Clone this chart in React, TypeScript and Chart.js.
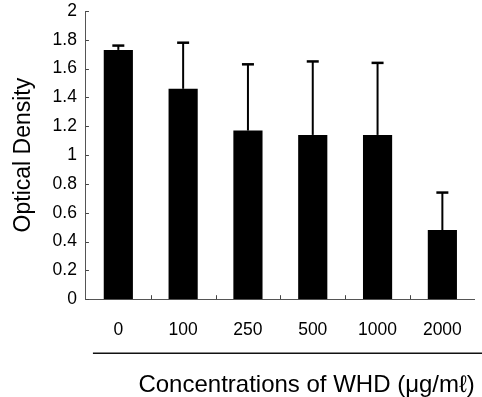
import React, { useEffect, useRef } from "react";
import { Chart, registerables } from "chart.js";

Chart.register(...registerables);

const categories = ["0", "100", "250", "500", "1000", "2000"];
const means = [1.73, 1.46, 1.17, 1.14, 1.14, 0.48];
const errorsUp = [0.03, 0.32, 0.46, 0.51, 0.5, 0.26];
const yTickLabels = ["0", "0.2", "0.4", "0.6", "0.8", "1", "1.2", "1.4", "1.6", "1.8", "2"];
const xTitle = "Concentrations of WHD (\u03bcg/m\u2113)";
const yTitle = "Optical Density";

const FONT = "'Liberation Sans', Arial, sans-serif";

const errorBarPlugin = {
  id: "errorBars",
  afterDatasetsDraw(chart: any) {
    const ctx = chart.ctx;
    const meta = chart.getDatasetMeta(0);
    const yScale = chart.scales.y;
    ctx.save();
    ctx.strokeStyle = "#000";
    meta.data.forEach((bar: any, i: number) => {
      const top = yScale.getPixelForValue(means[i] + errorsUp[i]);
      ctx.lineWidth = 2;
      ctx.beginPath();
      ctx.moveTo(bar.x, bar.y);
      ctx.lineTo(bar.x, top);
      ctx.stroke();
      ctx.lineWidth = 2.5;
      ctx.beginPath();
      ctx.moveTo(bar.x - 6, top);
      ctx.lineTo(bar.x + 6, top);
      ctx.stroke();
    });
    ctx.restore();
  },
};

const decorPlugin = {
  id: "decor",
  afterDraw(chart: any) {
    const ctx = chart.ctx;
    const area = chart.chartArea;
    const yScale = chart.scales.y;
    const xScale = chart.scales.x;
    ctx.save();
    ctx.strokeStyle = "#444";
    ctx.lineWidth = 1;
    yScale.ticks.forEach((t: any) => {
      const py = Math.round(yScale.getPixelForValue(t.value)) + 0.5;
      ctx.beginPath();
      ctx.moveTo(area.left, py);
      ctx.lineTo(area.left + 3, py);
      ctx.stroke();
    });
    for (let i = 1; i < categories.length; i++) {
      const px =
        Math.round((xScale.getPixelForValue(i - 1) + xScale.getPixelForValue(i)) / 2) + 0.5;
      ctx.beginPath();
      ctx.moveTo(px, area.bottom);
      ctx.lineTo(px, area.bottom - 4);
      ctx.stroke();
    }
    ctx.strokeStyle = "#111";
    ctx.lineWidth = 1.5;
    const uy = area.bottom + 54;
    ctx.beginPath();
    ctx.moveTo(area.left + 7, uy);
    ctx.lineTo(chart.width, uy);
    ctx.stroke();
    ctx.restore();
  },
};

export default function App() {
  const ref = useRef<HTMLCanvasElement | null>(null);

  useEffect(() => {
    if (!ref.current) return;
    const chart = new Chart(ref.current, {
      type: "bar",
      data: {
        labels: categories,
        datasets: [
          {
            data: means,
            backgroundColor: "#000",
            borderWidth: 0,
            categoryPercentage: 1,
            barPercentage: 0.45,
          },
        ],
      },
      options: {
        responsive: false,
        animation: false,
        devicePixelRatio: 1,
        layout: { padding: { top: 11, right: 2, bottom: -3, left: 0 } },
        plugins: {
          legend: { display: false },
          tooltip: { enabled: false },
        },
        scales: {
          x: {
            grid: { display: false, drawTicks: false },
            border: { display: true, color: "#555", width: 1, dash: [6, 2] },
            ticks: {
              color: "#000",
              padding: 20,
              font: { family: FONT, size: 17.5 },
            },
            title: {
              display: true,
              text: xTitle,
              align: "end",
              color: "#000",
              font: { family: FONT, size: 24 },
              padding: { top: 11, bottom: 0 },
            },
          },
          y: {
            min: 0,
            max: 2,
            grid: { display: false, drawTicks: false },
            border: { display: true, color: "#555", width: 1, dash: [6, 2] },
            afterFit: (scale: any) => {
              scale.paddingTop = 0;
            },
            ticks: {
              stepSize: 0.2,
              color: "#000",
              padding: 9,
              font: { family: FONT, size: 17.5 },
              callback: (_v: any, i: number) => yTickLabels[i],
            },
            title: {
              display: true,
              text: yTitle,
              color: "#000",
              font: { family: FONT, size: 23 },
              padding: { top: 10, bottom: 6 },
            },
          },
        },
      },
      plugins: [errorBarPlugin, decorPlugin],
    });
    return () => chart.destroy();
  }, []);

  return (
    <div style={{ position: "fixed", left: 0, top: 0, width: 482, height: 397, background: "#fff" }}>
      <canvas ref={ref} width={482} height={397} style={{ display: "block" }} />
    </div>
  );
}
